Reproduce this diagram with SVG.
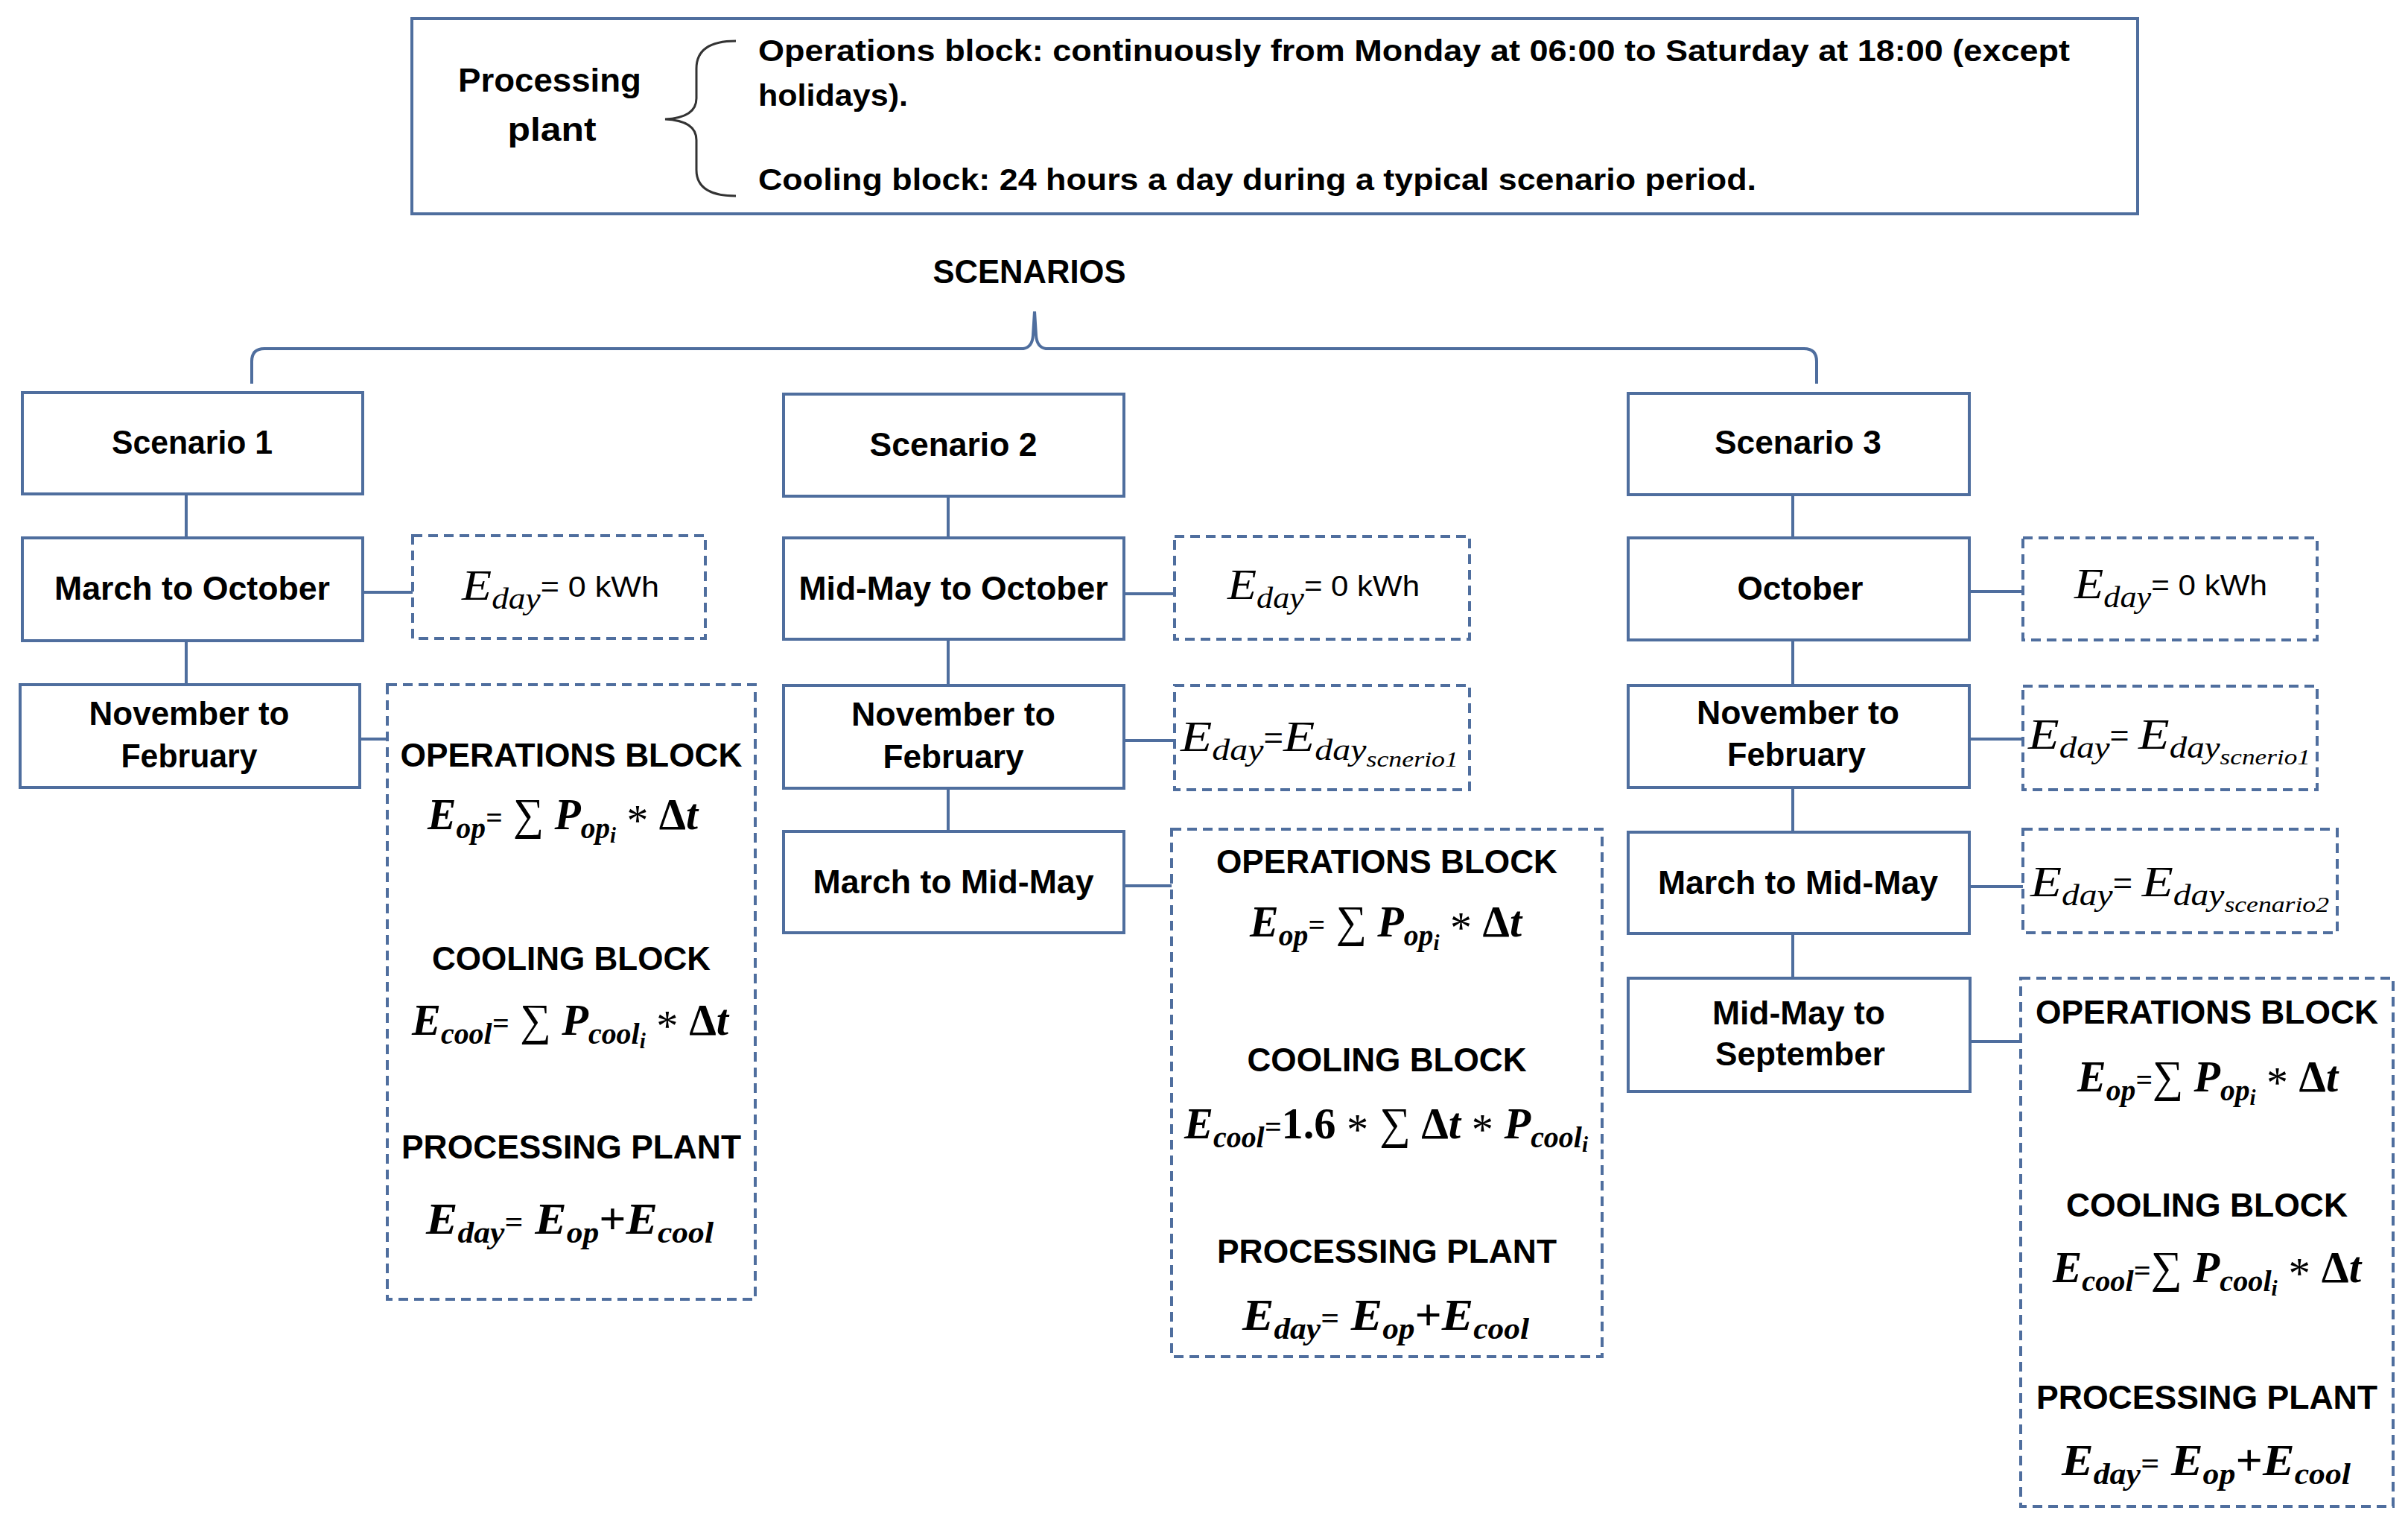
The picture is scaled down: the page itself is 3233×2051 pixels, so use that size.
<svg xmlns="http://www.w3.org/2000/svg" width="3233" height="2051" viewBox="0 0 3233 2051">
<style>
.bg{fill:#fff}
.box{fill:#fff;stroke:#4F6E9E;stroke-width:4}
.dbox{fill:#fff;stroke:#4F6E9E;stroke-width:4;stroke-dasharray:13 8}
.conn{fill:none;stroke:#4F6E9E;stroke-width:4}
.brace{fill:none;stroke:#333;stroke-width:3}
.lbl{font-family:'Liberation Sans',Arial,sans-serif;font-weight:bold;font-size:45px;fill:#000;text-anchor:middle}
.hdr{font-family:'Liberation Sans',Arial,sans-serif;font-weight:bold;font-size:40px;fill:#000}
.hd{font-family:'Liberation Sans',Arial,sans-serif;font-weight:bold;font-size:44px;fill:#000;text-anchor:middle}
.m{font-family:'Liberation Serif','DejaVu Serif',serif;font-weight:bold;font-style:italic;font-size:60px;fill:#000}
.ms{font-size:41px}
.mss{font-size:30px}
.up{font-style:normal}
.upn{font-style:normal;font-weight:normal}
.t{font-family:'Liberation Serif','DejaVu Serif',serif;font-style:italic;font-size:58px;fill:#000}
.ts{font-size:40px}
.tss{font-size:30px}
.kwh{font-family:'Liberation Sans',Arial,sans-serif;font-style:normal;font-size:38px}
</style>
<rect class="bg" x="0" y="0" width="3233" height="2051"/>

<g id="connectors">
<path class="conn" d="M 338 515 L 338 485 Q 338 468 355 468 L 1374 468 Q 1386 466 1387 450 L 1389 418 L 1391 450 Q 1392 466 1404 468 L 2422 468 Q 2439 468 2439 485 L 2439 515"/>
<line class="conn" x1="250" y1="663" x2="250" y2="722"/>
<line class="conn" x1="250" y1="860" x2="250" y2="919"/>
<line class="conn" x1="1273" y1="666" x2="1273" y2="722"/>
<line class="conn" x1="1273" y1="858" x2="1273" y2="920"/>
<line class="conn" x1="1273" y1="1058" x2="1273" y2="1116"/>
<line class="conn" x1="2407" y1="664" x2="2407" y2="722"/>
<line class="conn" x1="2407" y1="859" x2="2407" y2="920"/>
<line class="conn" x1="2407" y1="1057" x2="2407" y2="1117"/>
<line class="conn" x1="2407" y1="1253" x2="2407" y2="1313"/>
<line class="conn" x1="487" y1="795" x2="554" y2="795"/>
<line class="conn" x1="483" y1="992" x2="520" y2="992"/>
<line class="conn" x1="1509" y1="797" x2="1577" y2="797"/>
<line class="conn" x1="1509" y1="994" x2="1577" y2="994"/>
<line class="conn" x1="1509" y1="1189" x2="1573" y2="1189"/>
<line class="conn" x1="2644" y1="794" x2="2716" y2="794"/>
<line class="conn" x1="2644" y1="992" x2="2716" y2="992"/>
<line class="conn" x1="2644" y1="1190" x2="2716" y2="1190"/>
<line class="conn" x1="2645" y1="1398" x2="2713" y2="1398"/>
</g>

<g id="processing-plant">
<rect class="box" x="553" y="25" width="2317" height="262"/>
<text class="lbl" x="738" y="123" textLength="246" lengthAdjust="spacingAndGlyphs">Processing</text>
<text class="lbl" x="741" y="189" textLength="119" lengthAdjust="spacingAndGlyphs">plant</text>
<path class="brace" d="M 988 55 Q 935 55 935 92 L 935 132 Q 935 158 893 160 Q 935 162 935 188 L 935 228 Q 935 263 988 263"/>
<text class="hdr" x="1018" y="82" textLength="1761" lengthAdjust="spacingAndGlyphs">Operations block: continuously from Monday at 06:00 to Saturday at 18:00 (except</text>
<text class="hdr" x="1018" y="142" textLength="201" lengthAdjust="spacingAndGlyphs">holidays).</text>
<text class="hdr" x="1018" y="255" textLength="1340" lengthAdjust="spacingAndGlyphs">Cooling block: 24 hours a day during a typical scenario period.</text>
</g>

<g id="scenarios-title">
<text class="hd" x="1382" y="380" textLength="259" lengthAdjust="spacingAndGlyphs">SCENARIOS</text>
</g>

<!-- Scenario 1 -->
<g id="s1">
<rect class="box" x="30" y="527" width="457" height="136"/>
<text class="lbl" x="258" y="609" textLength="216" lengthAdjust="spacingAndGlyphs">Scenario 1</text>
</g>
<g id="s1-mar-oct">
<rect class="box" x="30" y="722" width="457" height="138"/>
<text class="lbl" x="258" y="805" textLength="370" lengthAdjust="spacingAndGlyphs">March to October</text>
</g>
<g id="s1-nov-feb">
<rect class="box" x="27" y="919" width="456" height="138"/>
<text class="lbl" x="254" y="973" textLength="269" lengthAdjust="spacingAndGlyphs">November to</text>
<text class="lbl" x="254" y="1030" textLength="183" lengthAdjust="spacingAndGlyphs">February</text>
</g>
<g id="s1-eday0">
<rect class="dbox" x="554" y="719" width="393" height="138"/>
<text class="t" x="620" y="805" textLength="265" lengthAdjust="spacingAndGlyphs">E<tspan class="ts" dy="12">day</tspan><tspan class="kwh" dy="-16">= 0 kWh</tspan></text>
</g>
<g id="s1-formulas">
<rect class="dbox" x="520" y="919" width="494" height="825"/>
<text class="hd" x="767" y="1029" textLength="459" lengthAdjust="spacingAndGlyphs">OPERATIONS BLOCK</text>
<text class="m" x="574" y="1113" textLength="363" lengthAdjust="spacingAndGlyphs">E<tspan class="ms" dy="12">op</tspan><tspan class="ms" dy="-14">=</tspan><tspan class="upn" dy="2"> ∑ </tspan>P<tspan class="ms" dy="12">op</tspan><tspan class="mss" dy="6">i</tspan><tspan dy="-10" class="upn"> * </tspan><tspan class="up" dy="-8">Δ</tspan>t</text>
<text class="hd" x="767" y="1302" textLength="374" lengthAdjust="spacingAndGlyphs">COOLING BLOCK</text>
<text class="m" x="553" y="1389" textLength="425" lengthAdjust="spacingAndGlyphs">E<tspan class="ms" dy="12">cool</tspan><tspan class="ms" dy="-14">=</tspan><tspan class="upn" dy="2"> ∑ </tspan>P<tspan class="ms" dy="12">cool</tspan><tspan class="mss" dy="6">i</tspan><tspan dy="-10" class="upn"> * </tspan><tspan class="up" dy="-8">Δ</tspan>t</text>
<text class="hd" x="767" y="1555" textLength="456" lengthAdjust="spacingAndGlyphs">PROCESSING PLANT</text>
<text class="m" x="572" y="1656" textLength="386" lengthAdjust="spacingAndGlyphs">E<tspan class="ms" dy="12">day</tspan><tspan class="ms" dy="-14">=</tspan><tspan dy="2"> E</tspan><tspan class="ms" dy="12">op</tspan><tspan class="up" dy="-12">+</tspan>E<tspan class="ms" dy="12">cool</tspan></text>
</g>

<!-- Scenario 2 -->
<g id="s2">
<rect class="box" x="1052" y="529" width="457" height="137"/>
<text class="lbl" x="1280" y="612" textLength="225" lengthAdjust="spacingAndGlyphs">Scenario 2</text>
</g>
<g id="s2-midmay-oct">
<rect class="box" x="1052" y="722" width="457" height="136"/>
<text class="lbl" x="1280" y="805" textLength="415" lengthAdjust="spacingAndGlyphs">Mid-May to October</text>
</g>
<g id="s2-nov-feb">
<rect class="box" x="1052" y="920" width="457" height="138"/>
<text class="lbl" x="1280" y="974" textLength="274" lengthAdjust="spacingAndGlyphs">November to</text>
<text class="lbl" x="1280" y="1031" textLength="189" lengthAdjust="spacingAndGlyphs">February</text>
</g>
<g id="s2-mar-midmay">
<rect class="box" x="1052" y="1116" width="457" height="136"/>
<text class="lbl" x="1280" y="1199" textLength="377" lengthAdjust="spacingAndGlyphs">March to Mid-May</text>
</g>
<g id="s2-eday0">
<rect class="dbox" x="1577" y="720" width="396" height="138"/>
<text class="t" x="1648" y="804" textLength="258" lengthAdjust="spacingAndGlyphs">E<tspan class="ts" dy="12">day</tspan><tspan class="kwh" dy="-16">= 0 kWh</tspan></text>
</g>
<g id="s2-eday-s1">
<rect class="dbox" x="1577" y="920" width="396" height="140"/>
<text class="t" x="1585" y="1008" textLength="373" lengthAdjust="spacingAndGlyphs">E<tspan class="ts" dy="12">day</tspan><tspan class="kwh" dy="-16">=</tspan><tspan dy="4">E</tspan><tspan class="ts" dy="12">day</tspan><tspan class="tss" dy="9">scnerio1</tspan></text>
</g>
<g id="s2-formulas">
<rect class="dbox" x="1573" y="1113" width="578" height="708"/>
<text class="hd" x="1862" y="1172" textLength="458" lengthAdjust="spacingAndGlyphs">OPERATIONS BLOCK</text>
<text class="m" x="1678" y="1257" textLength="365" lengthAdjust="spacingAndGlyphs">E<tspan class="ms" dy="12">op</tspan><tspan class="ms" dy="-14">=</tspan><tspan class="upn" dy="2"> ∑ </tspan>P<tspan class="ms" dy="12">op</tspan><tspan class="mss" dy="6">i</tspan><tspan dy="-10" class="upn"> * </tspan><tspan class="up" dy="-8">Δ</tspan>t</text>
<text class="hd" x="1862" y="1438" textLength="375" lengthAdjust="spacingAndGlyphs">COOLING BLOCK</text>
<text class="m" x="1590" y="1528" textLength="542" lengthAdjust="spacingAndGlyphs">E<tspan class="ms" dy="12">cool</tspan><tspan class="ms" dy="-14">=</tspan><tspan class="up" dy="2">1.6</tspan><tspan class="upn" dy="8"> * </tspan><tspan class="upn" dy="-8">∑ </tspan><tspan class="up">Δ</tspan>t<tspan class="upn" dy="8"> * </tspan><tspan dy="-8">P</tspan><tspan class="ms" dy="12">cool</tspan><tspan class="mss" dy="6">i</tspan></text>
<text class="hd" x="1862" y="1695" textLength="456" lengthAdjust="spacingAndGlyphs">PROCESSING PLANT</text>
<text class="m" x="1668" y="1785" textLength="385" lengthAdjust="spacingAndGlyphs">E<tspan class="ms" dy="12">day</tspan><tspan class="ms" dy="-14">=</tspan><tspan dy="2"> E</tspan><tspan class="ms" dy="12">op</tspan><tspan class="up" dy="-12">+</tspan>E<tspan class="ms" dy="12">cool</tspan></text>
</g>

<!-- Scenario 3 -->
<g id="s3">
<rect class="box" x="2186" y="528" width="458" height="136"/>
<text class="lbl" x="2414" y="609" textLength="224" lengthAdjust="spacingAndGlyphs">Scenario 3</text>
</g>
<g id="s3-oct">
<rect class="box" x="2186" y="722" width="458" height="137"/>
<text class="lbl" x="2417" y="805" textLength="169" lengthAdjust="spacingAndGlyphs">October</text>
</g>
<g id="s3-nov-feb">
<rect class="box" x="2186" y="920" width="458" height="137"/>
<text class="lbl" x="2414" y="972" textLength="272" lengthAdjust="spacingAndGlyphs">November to</text>
<text class="lbl" x="2412" y="1028" textLength="186" lengthAdjust="spacingAndGlyphs">February</text>
</g>
<g id="s3-mar-midmay">
<rect class="box" x="2186" y="1117" width="458" height="136"/>
<text class="lbl" x="2414" y="1200" textLength="376" lengthAdjust="spacingAndGlyphs">March to Mid-May</text>
</g>
<g id="s3-midmay-sep">
<rect class="box" x="2186" y="1313" width="459" height="152"/>
<text class="lbl" x="2415" y="1375" textLength="232" lengthAdjust="spacingAndGlyphs">Mid-May to</text>
<text class="lbl" x="2417" y="1430" textLength="228" lengthAdjust="spacingAndGlyphs">September</text>
</g>
<g id="s3-eday0">
<rect class="dbox" x="2716" y="722" width="395" height="137"/>
<text class="t" x="2785" y="803" textLength="259" lengthAdjust="spacingAndGlyphs">E<tspan class="ts" dy="12">day</tspan><tspan class="kwh" dy="-16">= 0 kWh</tspan></text>
</g>
<g id="s3-eday-s1">
<rect class="dbox" x="2716" y="921" width="395" height="139"/>
<text class="t" x="2723" y="1005" textLength="379" lengthAdjust="spacingAndGlyphs">E<tspan class="ts" dy="12">day</tspan><tspan class="kwh" dy="-16">= </tspan><tspan dy="4">E</tspan><tspan class="ts" dy="12">day</tspan><tspan class="tss" dy="9">scnerio1</tspan></text>
</g>
<g id="s3-eday-s2">
<rect class="dbox" x="2716" y="1113" width="422" height="139"/>
<text class="t" x="2726" y="1203" textLength="401" lengthAdjust="spacingAndGlyphs">E<tspan class="ts" dy="12">day</tspan><tspan class="kwh" dy="-16">= </tspan><tspan dy="4">E</tspan><tspan class="ts" dy="12">day</tspan><tspan class="tss" dy="9">scenario2</tspan></text>
</g>
<g id="s3-formulas">
<rect class="dbox" x="2713" y="1313" width="500" height="709"/>
<text class="hd" x="2963" y="1374" textLength="460" lengthAdjust="spacingAndGlyphs">OPERATIONS BLOCK</text>
<text class="m" x="2789" y="1465" textLength="350" lengthAdjust="spacingAndGlyphs">E<tspan class="ms" dy="12">op</tspan><tspan class="ms" dy="-14">=</tspan><tspan class="upn" dy="2">∑ </tspan>P<tspan class="ms" dy="12">op</tspan><tspan class="mss" dy="6">i</tspan><tspan dy="-10" class="upn"> * </tspan><tspan class="up" dy="-8">Δ</tspan>t</text>
<text class="hd" x="2963" y="1633" textLength="378" lengthAdjust="spacingAndGlyphs">COOLING BLOCK</text>
<text class="m" x="2756" y="1721" textLength="414" lengthAdjust="spacingAndGlyphs">E<tspan class="ms" dy="12">cool</tspan><tspan class="ms" dy="-14">=</tspan><tspan class="upn" dy="2">∑ </tspan>P<tspan class="ms" dy="12">cool</tspan><tspan class="mss" dy="6">i</tspan><tspan dy="-10" class="upn"> * </tspan><tspan class="up" dy="-8">Δ</tspan>t</text>
<text class="hd" x="2963" y="1891" textLength="458" lengthAdjust="spacingAndGlyphs">PROCESSING PLANT</text>
<text class="m" x="2768" y="1980" textLength="388" lengthAdjust="spacingAndGlyphs">E<tspan class="ms" dy="12">day</tspan><tspan class="ms" dy="-14">=</tspan><tspan dy="2"> E</tspan><tspan class="ms" dy="12">op</tspan><tspan class="up" dy="-12">+</tspan>E<tspan class="ms" dy="12">cool</tspan></text>
</g>
</svg>
